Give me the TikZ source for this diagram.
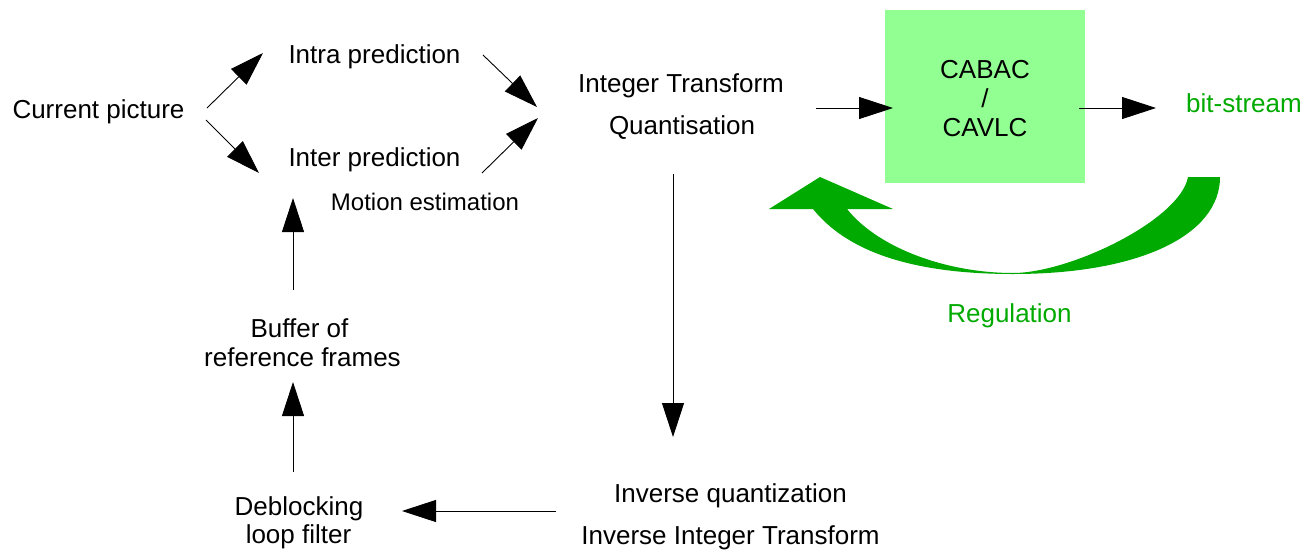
\documentclass[tikz,border=0pt]{standalone}
\usepackage{fontspec}
\setmainfont{Liberation Sans}
\usetikzlibrary{arrows.meta}
\definecolor{boxgreen}{RGB}{146,255,146}
\definecolor{darkgreen}{RGB}{0,170,0}
\begin{document}
\begin{tikzpicture}[x=1pt,y=-1pt,
  lbl/.style={anchor=base, inner sep=0pt, font=\fontsize{26}{30}\selectfont},
  small/.style={anchor=base, inner sep=0pt, font=\fontsize{24}{28}\selectfont},
  glbl/.style={lbl, text=darkgreen},
  flow/.style={line width=0.9pt, -{Triangle[length=34pt,width=22pt]}}]
\useasboundingbox[fill=white] (0,0) rectangle (1314,552);

% box
\node[fill=boxgreen, minimum width=200pt, minimum height=173pt, inner sep=0pt, draw=none] (cabac) at (985,96.5) {};

% texts
\node[lbl] (cur) at (98.5,118) {Current picture};
\node[lbl] (intra) at (374.5,63) {Intra prediction};
\node[lbl] (inter) at (374.5,166) {Inter prediction};
\node[small] (motion) at (425,210) {Motion estimation};
\node[lbl] (itr) at (681,92) {Integer Transform};
\node[lbl] (quant) at (682,134) {Quantisation};
\node[lbl] (cabac1) at (985,78) {CABAC};
\node[lbl] (cabac2) at (985,107) {/};
\node[lbl] (cabac3) at (985,136) {CAVLC};
\node[glbl] (bits) at (1244,112) {bit-stream};
\node[glbl] (reg) at (1009.5,322) {Regulation};
\node[lbl] (buf1) at (299.5,337) {Buffer of};
\node[lbl] (buf2) at (302.5,366) {reference frames};
\node[lbl] (deb1) at (299,515) {Deblocking};
\node[lbl] (deb2) at (298.5,543) {loop filter};
\node[lbl] (inv1) at (730.5,502) {Inverse quantization};
\node[lbl] (inv2) at (730.5,544) {Inverse Integer Transform};

% connector end points
\coordinate (curA) at (207,108);
\coordinate (intraIn) at (263,53);
\coordinate (curB) at (206,120);
\coordinate (interIn) at (259,173);
\coordinate (intraOut) at (483,55);
\coordinate (itIn1) at (537,107);
\coordinate (interOut) at (482,173);
\coordinate (itIn2) at (538,118);
\coordinate (itOut) at (816,108);
\coordinate (cabIn) at (893,108);
\coordinate (cabOut) at (1079,108);
\coordinate (bitsIn) at (1156,108);
\coordinate (qOut) at (673,174);
\coordinate (invIn) at (673,437);
\coordinate (invOut) at (556,511);
\coordinate (debIn) at (402,511);
\coordinate (debOut) at (293,472);
\coordinate (bufIn) at (293,382);
\coordinate (bufOut) at (293,290);
\coordinate (interIn2) at (293,198);

\draw[flow] (curA) -- (intraIn);
\draw[flow] (curB) -- (interIn);
\draw[flow] (intraOut) -- (itIn1);
\draw[flow] (interOut) -- (itIn2);
\draw[flow] (itOut) -- (cabIn);
\draw[flow] (cabOut) -- (bitsIn);
\draw[flow] (qOut) -- (invIn);
\draw[flow] (invOut) -- (debIn);
\draw[flow] (debOut) -- (bufIn);
\draw[flow] (bufOut) -- (interIn2);

% regulation arrow
\fill[darkgreen] (1188,177) -- (1220,177)
  .. controls (1220,235) and (1140,274) .. (1013,274)
  .. controls (920,274) and (850,255) .. (813,209)
  -- (769,209) -- (820,177) -- (893,209) -- (847,209)
  .. controls (880,250) and (950,273) .. (1013,273)
  .. controls (1070,273) and (1180,220) .. (1188,177) -- cycle;
\end{tikzpicture}
\end{document}
